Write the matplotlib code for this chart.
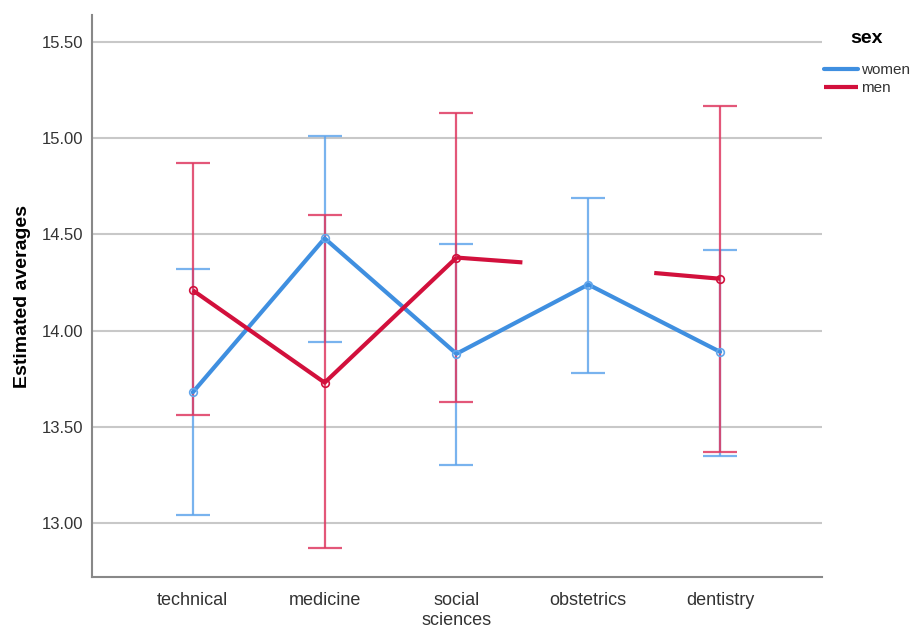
import numpy as np
import matplotlib.pyplot as plt

plt.rcParams['font.family'] = ['Liberation Sans', 'DejaVu Sans']

### Data ###
fields = ["technical", "medicine", "social\nsciences", "obstetrics", "dentistry"]

women_mean = [13.68, 14.48, 13.88, 14.24, 13.89]
women_low = [13.04, 13.94, 13.30, 13.78, 13.35]
women_high = [14.32, 15.01, 14.45, 14.69, 14.42]

# men at obstetrics has no interval / marker, only half-segments towards it
men_mean = [14.21, 13.73, 14.38, 14.33, 14.27]
men_low = [13.56, 12.87, 13.63, np.nan, 13.37]
men_high = [14.87, 14.60, 15.13, np.nan, 15.17]
men_has_point = [True, True, True, False, True]

WOMEN_LINE = "#3f8fe0"
WOMEN_BAR = "#62a6ec"
MEN_LINE = "#d2103c"
MEN_BAR = "#de3a62"

fig = plt.figure(figsize=(9.16, 6.31), dpi=100)
ax = fig.add_axes([0.1004, 0.0856, 0.7966, 0.8904])

x = np.arange(len(fields))


def draw_bars(means, lows, highs, color):
    m = np.array(means, dtype=float)
    lo = np.array(lows, dtype=float)
    hi = np.array(highs, dtype=float)
    ok = ~np.isnan(lo)
    ax.errorbar(x[ok], m[ok], yerr=[m[ok] - lo[ok], hi[ok] - m[ok]], fmt="none",
                ecolor=color, elinewidth=1.6, capsize=12, capthick=1.6,
                alpha=0.85, zorder=3)


# women
draw_bars(women_mean, women_low, women_high, WOMEN_BAR)
ax.plot(x, women_mean, color=WOMEN_LINE, lw=3.0, solid_capstyle="round",
        zorder=4, label="women")
ax.plot(x, women_mean, "o", ms=5.5, mfc="none", mec=WOMEN_BAR, mew=1.2, zorder=5)

# men
draw_bars(men_mean, men_low, men_high, MEN_BAR)
mm = np.array(men_mean, dtype=float)
shown = np.array(men_has_point)
ym = np.where(shown, mm, np.nan)
ax.plot(x, ym, color=MEN_LINE, lw=3.0, solid_capstyle="butt", zorder=4,
        label="men")
for i in np.where(~shown)[0]:
    for j in (i - 1, i + 1):
        if 0 <= j < len(x) and shown[j]:
            ax.plot([x[j], (x[j] + x[i]) / 2], [mm[j], (mm[j] + mm[i]) / 2],
                    color=MEN_LINE, lw=3.0, solid_capstyle="butt", zorder=4)
ax.plot(x[shown], mm[shown], "o", ms=5.5, mfc="none", mec=MEN_LINE, mew=1.2,
        zorder=5)

ax.set_xlim(-0.765, 4.77)
ax.set_ylim(12.72, 15.64)
ax.set_yticks([13.0, 13.5, 14.0, 14.5, 15.0, 15.5])
ax.set_yticklabels(["%.2f" % v for v in [13.0, 13.5, 14.0, 14.5, 15.0, 15.5]])
ax.set_xticks(x)
ax.set_xticklabels(fields, fontsize=13, color="#333333", linespacing=1.2)
ax.tick_params(axis="y", labelsize=12, colors="#333333", length=0, pad=6)
ax.tick_params(axis="x", length=0, pad=11)
ax.yaxis.grid(True, color="#c8c8c8", lw=1.5)
ax.set_axisbelow(True)
for s in ["top", "right"]:
    ax.spines[s].set_visible(False)
for s in ["left", "bottom"]:
    ax.spines[s].set_color("#888888")
    ax.spines[s].set_linewidth(1.5)

ax.set_ylabel("Estimated averages", fontsize=14, fontweight="bold", labelpad=8)

leg = ax.legend(loc="upper left", bbox_to_anchor=(0.995, 0.985), frameon=False,
                title="sex", fontsize=11, handlelength=2.2, handletextpad=0.2,
                labelspacing=0.25, borderaxespad=0.0)
leg.get_title().set_fontweight("bold")
leg.get_title().set_fontsize(14)
leg._legend_box.sep = 12
for t in leg.get_texts():
    t.set_color("#333333")

fig.savefig("out.png", dpi=100)
